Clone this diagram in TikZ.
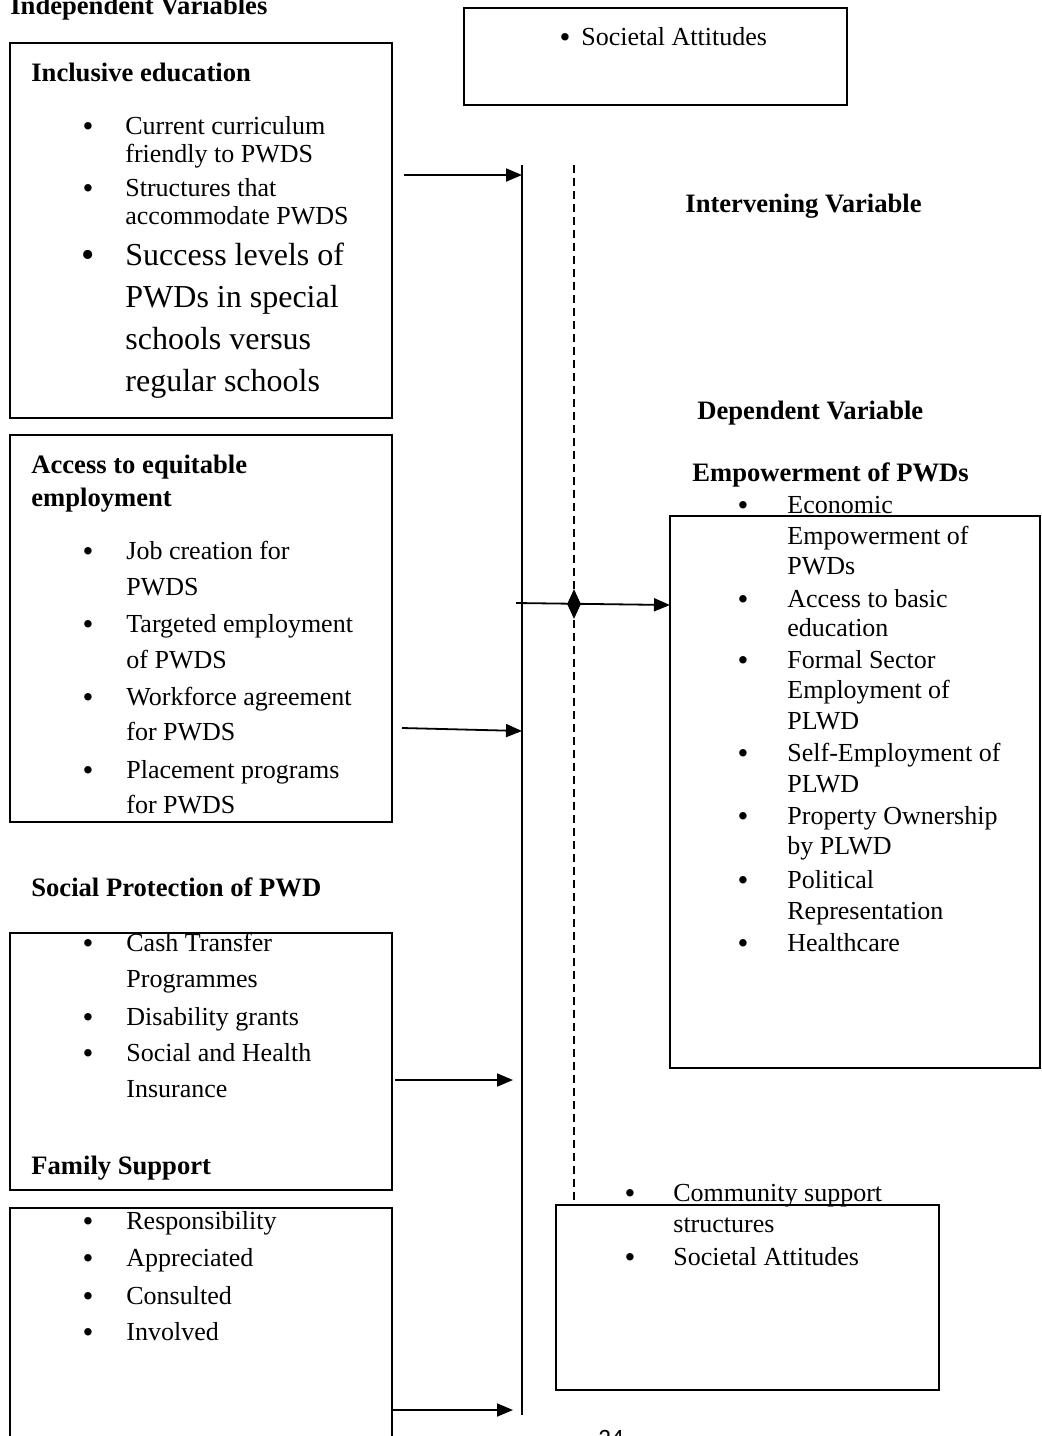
\documentclass[tikz,border=0pt]{standalone}
\usepackage{fontspec}
\setmainfont{Liberation Serif}
\newfontfamily\pagenofont{Carlito}
\usetikzlibrary{arrows.meta,shapes.geometric}

\begin{document}
\begin{tikzpicture}[x=0.5pt,y=-0.5pt,
  box/.style={draw,line width=0.75pt,inner sep=0pt},
  txt/.style={anchor=base west,inner sep=0pt,font=\fontsize{13}{15}\selectfont},
  bigtxt/.style={anchor=base west,inner sep=0pt,font=\fontsize{16}{19}\selectfont},
  head/.style={anchor=base west,inner sep=0pt,font=\bfseries\fontsize{13.3}{16}\selectfont},
  dot/.style={anchor=base,inner sep=0pt,yshift=-1pt,font=\fontsize{15.5}{15}\selectfont},
  link/.style={line width=0.9pt,-{Triangle[length=8pt,width=6.5pt]}}]
\clip (0,0) rectangle (1042,1436);
\fill[white] (0,0) rectangle (1042,1436);

% boxes
\node[box,minimum width=191pt,minimum height=187.5pt] (edubox) at (201,230.5) {};
\node[box,minimum width=191pt,minimum height=193.5pt] (accbox) at (201,628.5) {};
\node[box,minimum width=191pt,minimum height=128.5pt] (socbox) at (201,1061.5) {};
\node[box,minimum width=191pt,minimum height=126pt] (fambox) at (201,1334) {};
\node[box,minimum width=191.5pt,minimum height=48.5pt] (attbox) at (655.5,56.5) {};
\node[box,minimum width=185pt,minimum height=276pt] (empbox) at (855,792) {};
\node[box,minimum width=191.5pt,minimum height=92.5pt] (combox) at (747.5,1297.5) {};

% headings
\node[head] (indep) at (10,14) {Independent Variables};
\node[head] (eduhead) at (31,81) {Inclusive education};
\node[head] (acchead) at (31,473) {Access to equitable};
\node[head] (acchead2) at (31,506) {employment};
\node[head] (sochead) at (31,896) {Social Protection of PWD};
\node[head] (famhead) at (31,1174) {Family Support};
\node[head] (inthead) at (685,212) {Intervening Variable};
\node[head] (dephead) at (697,419) {Dependent Variable};
\node[head] (emphead) at (692,481) {Empowerment of PWDs};

% left lists
\foreach \t/\y in {Current curriculum/134, friendly to PWDS/162, Structures that/196, accommodate PWDS/224}
  \node[txt] (edu-\y) at (125,\y) {\t};
\foreach \t/\y in {Success levels of/265, PWDs in special/307, schools versus/349, regular schools/391}
  \node[bigtxt] (edu-\y) at (125,\y) {\t};
\foreach \t/\y in {Job creation for/559, PWDS/595, Targeted employment/632, of PWDS/668,
  Workforce agreement/705, for PWDS/740, Placement programs/778, for PWDS/813}
  \node[txt] (acc-\y) at (126,\y) {\t};
\foreach \t/\y in {Cash Transfer/951, Programmes/987, Disability grants/1025,
  Social and Health/1061, Insurance/1097}
  \node[txt] (soc-\y) at (126,\y) {\t};
\foreach \t/\y in {Responsibility/1229, Appreciated/1266, Consulted/1304, Involved/1340}
  \node[txt] (fam-\y) at (126,\y) {\t};

% right lists
\node[txt] (att-a) at (581,45) {Societal Attitudes};
\foreach \t/\y in {Economic/513, Empowerment of/544, PWDs/574, Access to basic/607,
  education/636, Formal Sector/668, Employment of/698, PLWD/729,
  Self-Employment of/761, PLWD/792, Property Ownership/824, by PLWD/854,
  Political/888, Representation/919, Healthcare/951}
  \node[txt] (emp-\y) at (787,\y) {\t};
\foreach \t/\y in {Community support/1201, structures/1232, Societal Attitudes/1265}
  \node[txt] (com-\y) at (673,\y) {\t};

% bullets
\foreach \x/\y in {88/134, 88/196, 88/559, 88/632, 88/705, 88/778, 88/951, 88/1025, 88/1061,
  88/1229, 88/1266, 88/1304, 88/1340, 565/45, 743/513, 743/607, 743/668, 743/761,
  743/824, 743/888, 743/951, 630/1201, 630/1265}
  \node[dot] (b-\x-\y) at (\x,\y) {\textbullet};
\node[anchor=base,inner sep=0pt,yshift=-1pt,font=\fontsize{19}{19}\selectfont] (b-big) at (88,265) {\textbullet};

% the two vertical lines
\coordinate (vtop) at (522,165);
\coordinate (vbot) at (522,1415);
\coordinate (dtop) at (574,165);
\coordinate (dbot) at (574,1200);
\draw[line width=0.9pt] (vtop) -- (vbot);
\draw[line width=0.9pt,dash pattern=on 4pt off 2.5pt] (dtop) -- (dbot);

% arrows into the line
\coordinate (e1) at (404,175);
\coordinate (e2) at (402,728);
\coordinate (e3) at (395,1080);
\coordinate (e4) at (392,1410);
\draw[link] (e1) -- (522,175);
\draw[link] (e2) -- (522,731);
\draw[link] (e3) -- (513,1080);
\draw[link] (e4) -- (513,1410);

% link to the dependent variable
\coordinate (dsrc) at (516,603);
\coordinate (dtgt) at (670,605);
\draw[link] (dsrc) -- (dtgt);
\node[diamond,fill,inner sep=0pt,minimum width=7pt,minimum height=15pt] (dia) at (574,604) {};

\node[anchor=base west,inner sep=0pt,font=\pagenofont\fontsize{12.5}{15}\selectfont] (pageno) at (598,1446) {24};
\end{tikzpicture}
\end{document}
